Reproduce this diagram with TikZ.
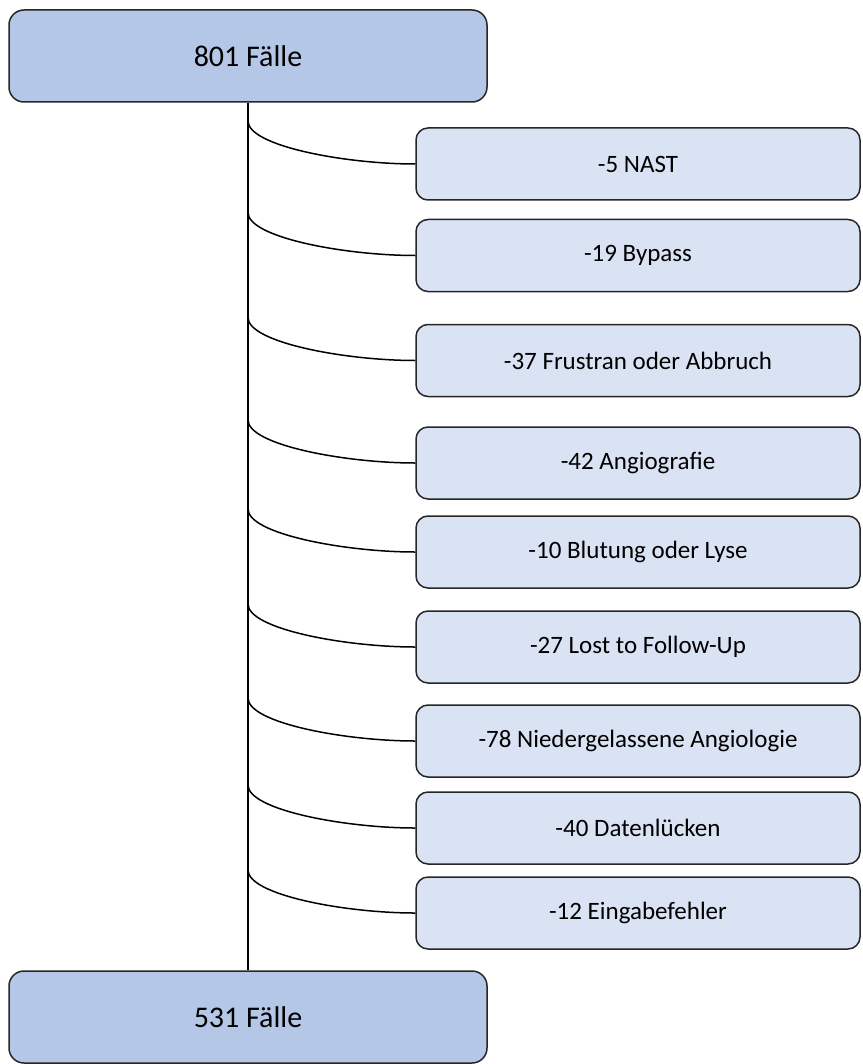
\documentclass[tikz,border=0pt]{standalone}
\usepackage{fontspec}
\setmainfont{Carlito}
\usetikzlibrary{calc,positioning}
\definecolor{mainfill}{RGB}{180,199,231}
\definecolor{subfill}{RGB}{218,227,243}
\definecolor{edge}{RGB}{38,38,38}
\tikzset{
	mainbox/.style={draw=edge,fill=mainfill,line width=0.75pt,rounded corners=7.5pt,minimum width=239pt,minimum height=46pt,inner sep=0pt,font=\fontsize{15pt}{18pt}\selectfont},
	subbox/.style={draw=edge,fill=subfill,line width=0.75pt,rounded corners=6pt,minimum width=222pt,minimum height=36pt,inner sep=0pt,font=\fontsize{12.5pt}{15pt}\selectfont},
	branch/.style={draw=black,line width=0.75pt}
}

\begin{document}
\begin{tikzpicture}[x=0.5pt,y=-0.5pt]
		\useasboundingbox (0,0) rectangle (862,1064);
		\node[mainbox] (total) at (248,56) {801 Fälle};
		\node[mainbox] (final) at (248,1017) {531 Fälle};
		
		\node[subbox] (nast) at (638,164) {-5 NAST};
		\node[subbox] (bypass) at (638,255.5) {-19 Bypass};
		\node[subbox] (frustran) at (638,360.5) {-37 Frustran oder Abbruch};
		\node[subbox] (angio) at (638,463) {-42 Angiografie};
		\node[subbox] (blutung) at (638,552) {-10 Blutung oder Lyse};
		\node[subbox] (lost) at (638,647) {-27 Lost to Follow-Up};
		\node[subbox] (niederg) at (638,741) {-78 Niedergelassene Angiologie};
		\node[subbox] (luecken) at (638,828) {-40 Datenlücken};
		\node[subbox] (eingabe) at (638,913) {-12 Eingabefehler};
		
		\draw[branch] (total.south) -- (final.north);
		\foreach \n in {nast,bypass,frustran,angio,blutung,lost,niederg,luecken,eingabe}
			\draw[branch] ($(total.south |- \n.west)+(0,-43)$) .. controls +(0,25) and +(-70,0) .. (\n.west);
	\end{tikzpicture}
\end{document}
